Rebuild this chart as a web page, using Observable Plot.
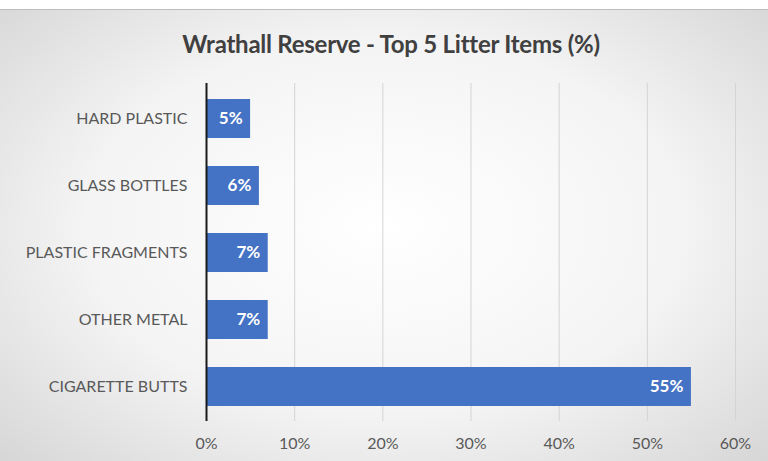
<!DOCTYPE html>
<html>
<head>
<meta charset="utf-8">
<script src="https://cdn.jsdelivr.net/npm/d3@7"></script>
<script src="https://cdn.jsdelivr.net/npm/@observablehq/plot@0.6"></script>
<style>
  html, body { margin: 0; padding: 0; background: #ffffff; }
  #frame {
    position: absolute; left: 0; top: 9px; width: 768px; height: 452px;
    background: radial-gradient(ellipse 70% 75% at 50% 48%, #ffffff 0%, #f4f4f4 55%, #d6d6d6 100%);
    border-top: 1px solid #bdbdbd;
    box-sizing: border-box;
  }
  #title {
    position: absolute; left: 0; top: 29px; width: 782px; text-align: center;
    font-family: Lato, "Open Sans", sans-serif; font-weight: bold; font-size: 24px;
    color: #404040; letter-spacing: -0.25px;
  }
  #chart { position: absolute; left: 0; top: 70px; }
</style>
</head>
<body>
<div id="frame"></div>
<div id="title">Wrathall Reserve - Top 5 Litter Items (%)</div>
<div id="chart"></div>
<script>
const categories = ["HARD PLASTIC", "GLASS BOTTLES", "PLASTIC FRAGMENTS", "OTHER METAL", "CIGARETTE BUTTS"];
const values = [5, 6, 7, 7, 55];
const xTicks = [0, 10, 20, 30, 40, 50, 60];

const data = categories.map((c, i) => ({category: c, value: values[i]}));

const plot = Plot.plot({
  width: 768,
  height: 391,
  marginTop: 13,
  marginBottom: 40,
  marginLeft: 206,
  marginRight: 33,
  style: {background: "transparent", fontFamily: "Lato, 'Open Sans', sans-serif", fontSize: "16px", color: "#595959"},
  x: {domain: [0, 60], ticks: xTicks, tickFormat: d => d + "%", label: null},
  y: {domain: categories, paddingInner: 0.42, paddingOuter: 0.21, label: null},
  marks: [
    Plot.ruleX(xTicks.filter(d => d > 0), {stroke: "#d4d4d4", strokeWidth: 1}),
    Plot.barX(data, {x: "value", y: "category", fill: "#4472c4"}),
    Plot.ruleX([0], {stroke: "#1a1a1a", strokeWidth: 2}),
    Plot.text(data, {x: "value", y: "category", text: d => d.value + "%", textAnchor: "end", dx: -8,
      fill: "white", fontWeight: "bold", fontSize: 17}),
    Plot.axisX({ticks: xTicks, tickFormat: d => d + "%", tickSize: 0, tickPadding: 16, label: null, fontSize: 16}),
    Plot.axisY({tickSize: 0, tickPadding: 19, label: null, fontSize: 16})
  ]
});
document.getElementById("chart").appendChild(plot);
</script>
</body>
</html>
